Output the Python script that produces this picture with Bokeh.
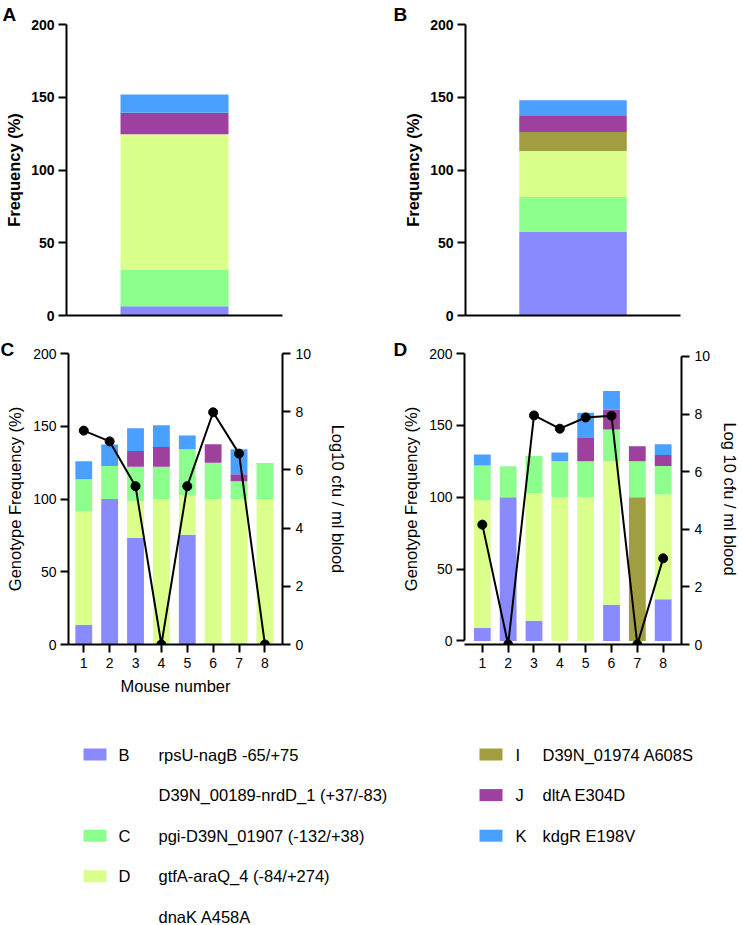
from bokeh.plotting import figure
from bokeh.layouts import column, row
from bokeh.models import Range1d, LinearAxis, FixedTicker, ColumnDataSource
from bokeh.core.properties import value
from bokeh.embed import file_html
from bokeh.resources import INLINE

FONT = "Liberation Sans"

# ---------------- data ----------------
COLORS = {"B": "#8a8aff", "C": "#8cff8c", "D": "#daff8a",
          "I": "#a09e40", "J": "#9e409e", "K": "#4aa0ff"}

# Panel A (pooled frequency, %)
A_order = ["B", "C", "D", "J", "K"]
A_vals = [6.4, 25.2, 93.0, 14.7, 12.6]

# Panel B (pooled frequency, %)
B_order = ["B", "C", "D", "I", "J", "K"]
B_vals = [57.4, 24.0, 31.7, 13.1, 11.4, 10.3]

# Panels C and D, per mouse
mice = [1, 2, 3, 4, 5, 6, 7, 8]
stack_order = ["B", "I", "D", "C", "J", "K"]

C_B = [13.5, 100, 73.4, 0, 75.5, 0, 0, 0]
C_I = [0, 0, 0, 0, 0, 0, 0, 0]
C_D = [78.0, 0, 25.0, 100, 27.0, 100, 100, 100]
C_C = [22.0, 22.7, 23.8, 22.2, 31.7, 25.0, 12.2, 24.8]
C_J = [0, 0, 10.8, 13.6, 0, 12.6, 4.8, 0]
C_K = [12.4, 14.7, 15.6, 14.9, 9.4, 0, 17.2, 0]
C_cfu = [7.35, 6.98, 5.44, 0, 5.44, 7.98, 6.56, 0]

D_B = [9.2, 100, 14.0, 0, 0, 25.2, 0, 29.0]
D_I = [0, 0, 0, 0, 0, 0, 100, 0]
D_D = [88.7, 0, 89.0, 100, 100, 99.8, 0, 72.8]
D_C = [24.1, 21.5, 25.6, 25.0, 25.0, 22.1, 25.0, 19.9]
D_J = [0, 0, 0, 0, 16.2, 14.0, 10.5, 7.6]
D_K = [7.7, 0, 0, 6.1, 17.6, 12.8, 0, 7.5]
D_cfu = [4.16, 0, 7.95, 7.49, 7.88, 7.94, 0, 2.99]

freq_ticks = [0, 50, 100, 150, 200]
cfu_ticks = [0, 2, 4, 6, 8, 10]

# legend
leg_left_letters = ["B", "", "C", "D", ""]
leg_left_texts = ["rpsU-nagB -65/+75", "D39N_00189-nrdD_1 (+37/-83)",
                  "pgi-D39N_01907 (-132/+38)", "gtfA-araQ_4 (-84/+274)", "dnaK A458A"]
leg_right_letters = ["I", "J", "K"]
leg_right_texts = ["D39N_01974 A608S", "dltA E304D", "kdgR E198V"]


# ---------------- helpers ----------------
def style_axis(ax, tick_size, label_size, bold=False, tick_standoff=5, label_standoff=5):
    ax.axis_line_width = 2
    ax.axis_line_color = "black"
    ax.major_tick_line_width = 2
    ax.major_tick_line_color = "black"
    ax.major_tick_out = 8
    ax.major_tick_in = 0
    ax.minor_tick_line_color = None
    ax.major_label_text_font = FONT
    ax.major_label_text_font_size = tick_size
    ax.major_label_text_font_style = "bold" if bold else "normal"
    ax.major_label_text_color = "black"
    ax.major_label_standoff = tick_standoff
    ax.axis_label_text_font = FONT
    ax.axis_label_text_font_size = label_size
    ax.axis_label_text_font_style = "bold" if bold else "normal"
    ax.axis_label_text_color = "black"
    ax.axis_label_standoff = label_standoff


def base_fig(w, h, xr, yr, left, right, top, bottom):
    p = figure(width=w, height=h, x_range=xr, y_range=yr,
               output_backend="svg", toolbar_location=None,
               min_border_left=left, min_border_right=right,
               min_border_top=top, min_border_bottom=bottom)
    p.grid.visible = False
    p.outline_line_color = None
    p.background_fill_color = "white"
    p.border_fill_color = "white"
    return p


def title_letter(p, text, x_off, standoff):
    p.title.text = text
    p.title.align = "left"
    p.title.offset = x_off
    p.title.standoff = standoff
    p.title.text_font = FONT
    p.title.text_font_size = "19px"
    p.title.text_font_style = "bold"
    p.title.text_color = "black"


def summary_panel(order, vals, letter, w, left, right, letter_x):
    p = base_fig(w, 330, Range1d(0, 2), Range1d(0, 200), left, right, 24, 15)
    src = {"x": [1]}
    for g, v in zip(order, vals):
        src[g] = [v]
    p.vbar_stack(order, x="x", width=1, source=ColumnDataSource(src),
                 fill_color=[COLORS[g] for g in order], line_color=None)
    style_axis(p.yaxis[0], "14px", "16.5px", bold=True, tick_standoff=4, label_standoff=5)
    p.yaxis[0].ticker = FixedTicker(ticks=freq_ticks)
    p.yaxis[0].axis_label = "Frequency (%)"
    style_axis(p.xaxis[0], "14px", "14px")
    p.xaxis[0].ticker = FixedTicker(ticks=[])
    p.xaxis[0].major_label_text_font_size = "0px"
    title_letter(p, letter, letter_x, 0)
    return p


def mouse_panel(stacks, cfu, letter, w, xr, yr, cfu_range, left, right, bottom,
                right_label, x_label, letter_x, right_std):
    p = base_fig(w, 370, xr, yr, left, right, 23, bottom)
    src = {"x": mice}
    for g, v in zip(stack_order, stacks):
        src[g] = v
    p.vbar_stack(stack_order, x="x", width=0.65, source=ColumnDataSource(src),
                 fill_color=[COLORS[g] for g in stack_order], line_color=None)
    p.extra_y_ranges = {"cfu": cfu_range}
    p.line(mice, cfu, y_range_name="cfu", line_color="black", line_width=2)
    p.scatter(mice, cfu, y_range_name="cfu", size=9, fill_color="black", line_color="black")

    ly = p.yaxis[0]
    style_axis(ly, "14px", "16.5px", tick_standoff=4, label_standoff=6)
    ly.ticker = FixedTicker(ticks=freq_ticks)
    ly.axis_label = "Genotype Frequency (%)"
    ly.bounds = (0, 200)

    ry = LinearAxis(y_range_name="cfu", axis_label=right_label, bounds=(0, 10))
    style_axis(ry, "14px", "16.5px", tick_standoff=5, label_standoff=right_std)
    ry.ticker = FixedTicker(ticks=cfu_ticks)
    p.add_layout(ry, "right")

    bx = p.xaxis[0]
    style_axis(bx, "14px", "16.5px", tick_standoff=5, label_standoff=6)
    bx.ticker = FixedTicker(ticks=mice)
    if x_label:
        bx.axis_label = x_label
    title_letter(p, letter, letter_x, -12)
    return p


# ---------------- panels ----------------
pA = summary_panel(A_order, A_vals, "A", 371, 66, 89, -64)
pB = summary_panel(B_order, B_vals, "B", 371, 94, 62, -72)

pC = mouse_panel([C_B, C_I, C_D, C_C, C_J, C_K], C_cfu, "C", 371,
                 Range1d(0.41, 8.68), Range1d(0, 200), Range1d(0, 10),
                 68, 89, 56, "Log10 cfu / ml blood", "Mouse number",
                 -68, 15)
pD = mouse_panel([D_B, D_I, D_D, D_C, D_J, D_K], D_cfu, "D", 371,
                 Range1d(0.31, 8.71), Range1d(-2.5, 200), Range1d(0, 10.1),
                 93, 61, 52, "Log 10 cfu / ml blood", None,
                 -71, 8)

# ---------------- legend ----------------
pL = figure(width=742, height=225, x_range=Range1d(0, 742), y_range=Range1d(225, 0),
            output_backend="svg", toolbar_location=None, min_border=0)
pL.axis.visible = False
pL.grid.visible = False
pL.outline_line_color = None

row_y0, row_dy = 54, 40.6
left_y = [row_y0 + row_dy * i for i in range(len(leg_left_texts))]
right_y = [row_y0 + row_dy * i for i in range(len(leg_right_texts))]

sw_l = [(l, y) for l, y in zip(leg_left_letters, left_y) if l]
pL.rect(x=[94.5] * len(sw_l), y=[y for _, y in sw_l], width=23, height=12,
        fill_color=[COLORS[l] for l, _ in sw_l], line_color=None)
pL.rect(x=[490.5] * len(leg_right_letters), y=right_y, width=23, height=12,
        fill_color=[COLORS[l] for l in leg_right_letters], line_color=None)

tkw = dict(text_font=value(FONT), text_font_size=value("16.5px"),
           text_baseline="middle", text_align="left", text_color="black")
pL.text(x=[118] * len(leg_left_letters), y=left_y, text=leg_left_letters, **tkw)
pL.text(x=[158] * len(leg_left_texts), y=left_y, text=leg_left_texts, **tkw)
pL.text(x=[515] * len(leg_right_letters), y=right_y, text=leg_right_letters, **tkw)
pL.text(x=[542] * len(leg_right_texts), y=right_y, text=leg_right_texts, **tkw)

layout = column(row(pA, pB), row(pC, pD), pL)

open("out.html", "w").write(file_html(layout, INLINE))
